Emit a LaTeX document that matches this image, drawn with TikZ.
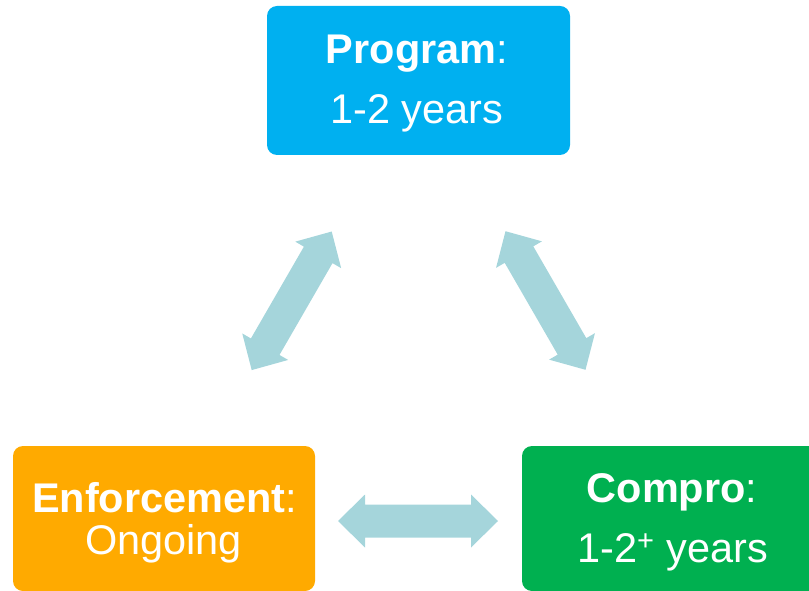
\documentclass[tikz,border=0pt]{standalone}
\usepackage{fontspec}
\setmainfont{Liberation Sans}
\definecolor{progc}{RGB}{0,176,240}
\definecolor{enfc}{RGB}{255,170,0}
\definecolor{compc}{RGB}{0,176,80}
\definecolor{arrc}{RGB}{165,213,219}
\tikzset{
  box/.style={rounded corners=7.5pt, inner sep=0pt, draw=none},
  lbl/.style={anchor=base, inner sep=0pt, text=white, font=\fontsize{31.1}{37}\selectfont},
  dblarr/.pic={
    \fill[arrc] (-80,0) -- (-53,26.5) -- (-53,16.5) -- (53,16.5) -- (53,26.5)
      -- (80,0) -- (53,-26.5) -- (53,-16.5) -- (-53,-16.5) -- (-53,-26.5) -- cycle;
  }
}
\begin{document}
\begin{tikzpicture}[x=0.75pt,y=-0.75pt]
\useasboundingbox (0,0) rectangle (809,591);
\clip (0,0) rectangle (809,591);
% boxes
\node (prog) [box, fill=progc, minimum width=227.25pt, minimum height=111.75pt] at (418.5,80.5) {};
\node (enf) [box, fill=enfc, minimum width=226.5pt, minimum height=108.75pt] at (164,518.5) {};
\node (comp) [box, fill=compc, minimum width=226.5pt, minimum height=108.75pt] at (673,518.5) {};
% texts
\node (progt) [lbl] at (417,63.3) {\textbf{Program}:};
\node (progy) [lbl] at (417,124) {1-2 years};
\node (enft) [lbl] at (164.5,512) {\textbf{Enforcement}:};
\node (enfy) [lbl] at (163.5,554) {Ongoing};
\node (compt) [lbl] at (672,502.7) {\textbf{Compro}:};
\node (compy) [lbl] at (672.5,562.7) {1-2\textsuperscript{+} years};
% arrows
\pic (a1) [rotate=60] at (291.7,300.8) {dblarr};
\pic (a2) [rotate=-60] at (545.5,300.5) {dblarr};
\pic (a3) at (418,521) {dblarr};
\end{tikzpicture}
\end{document}
